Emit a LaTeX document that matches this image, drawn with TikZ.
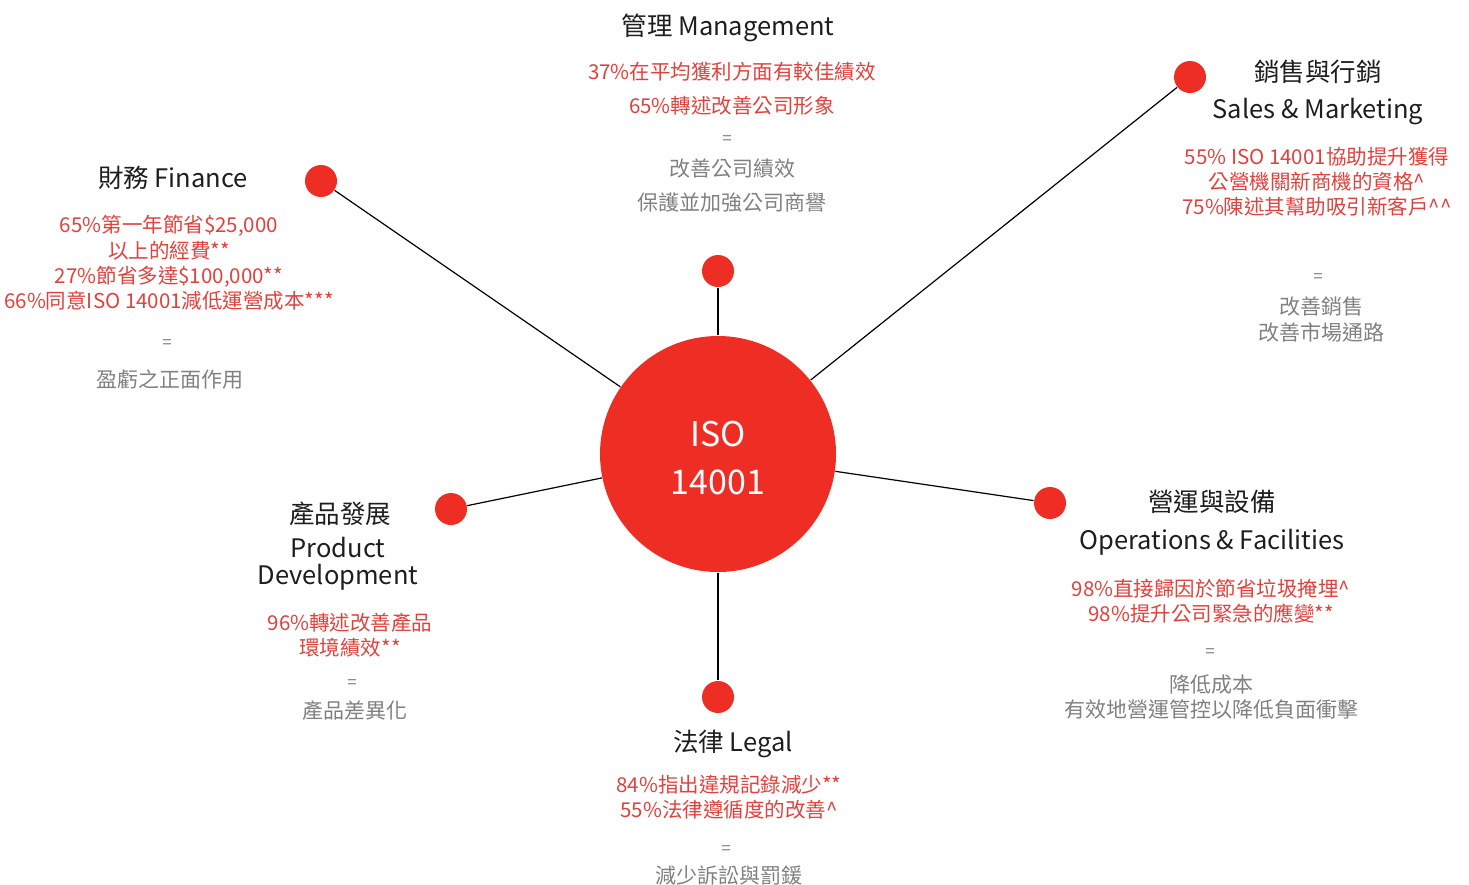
\documentclass[tikz,border=0pt]{standalone}
\usepackage{fontspec}
\setmainfont{Noto Sans CJK TC}
\definecolor{isored}{RGB}{238,46,36}
\definecolor{statred}{RGB}{222,66,62}
\definecolor{resgray}{RGB}{128,128,128}
\definecolor{headblack}{RGB}{30,30,30}

\begin{document}
\begin{tikzpicture}[x=1pt, y=-1pt, line width=1.2pt,
    hub/.style={circle, fill=isored, minimum size=236pt, inner sep=0pt, text=white, align=center, font=\fontsize{34}{48}\selectfont},
    dot/.style={circle, fill=isored, minimum size=32pt, inner sep=0pt},
    title/.style={align=center, text=headblack, inner sep=0pt, font=\fontsize{25.5}{37}\selectfont},
    stat/.style={align=center, text=statred, inner sep=0pt, font=\fontsize{20.5}{25}\selectfont},
    result/.style={align=center, text=resgray, inner sep=0pt, font=\fontsize{21}{26}\selectfont},
    equal/.style={text=resgray, inner sep=0pt, font=\fontsize{17}{20}\selectfont}]
        \useasboundingbox (0,0) rectangle (1469,884);

        % hub and the six dots
        \node[dot]  (mgt) at (718,271)  {};
        \node[dot]  (sal) at (1190,77)  {};
        \node[dot]  (fin) at (321,181)  {};
        \node[dot]  (pro) at (451,509)  {};
        \node[dot]  (ops) at (1050,503) {};
        \node[dot]  (leg) at (718,697)  {};
        \node[hub]  (iso) at (718,454)  {};
        \node[text=white, align=center, font=\fontsize{34}{48}\selectfont] (iso-l) at (718,458) {ISO\\14001};

        \path[draw] (mgt) edge (iso)
                    (sal) edge (iso)
                    (fin) edge (iso)
                    (pro) edge (iso)
                    (ops) edge (iso)
                    (leg) edge (iso);

        % management
        \node[title]  (mgt-t) at (728,28)  {管理 Management};
        \node[stat, font=\fontsize{20.5}{34}\selectfont] (mgt-s) at (732,89)  {37\%在平均獲利方面有較佳績效\\65\%轉述改善公司形象};
        \node[equal]  (mgt-e) at (727,140) {=};
        \node[result, font=\fontsize{21}{34}\selectfont] (mgt-r) at (732,186) {改善公司績效\\保護並加強公司商譽};

        % sales & marketing
        \node[title]  (sal-t) at (1318,92)  {銷售與行銷\\Sales \& Marketing};
        \node[stat]   (sal-s) at (1317,182) {55\% ISO 14001協助提升獲得\\公營機關新商機的資格\textasciicircum\\75\%陳述其幫助吸引新客戶\textasciicircum\textasciicircum};
        \node[equal]  (sal-e) at (1318,278) {=};
        \node[result] (sal-r) at (1321,320) {改善銷售\\改善市場通路};

        % finance
        \node[title]  (fin-t) at (173,178) {財務 Finance};
        \node[stat, font=\fontsize{20.5}{25.3}\selectfont] (fin-s) at (169,263) {65\%第一年節省\$25,000\\以上的經費**\\27\%節省多達\$100,000**\\66\%同意ISO 14001減低運營成本***};
        \node[equal]  (fin-e) at (167,344) {=};
        \node[result] (fin-r) at (170,380) {盈虧之正面作用};

        % product development
        \node[title]  (pro-t) at (340,514)   {產品發展};
        \node[title, font=\fontsize{25.5}{27}\selectfont] (pro-u) at (338,564) {Product\\Development};
        \node[stat]   (pro-s) at (350,635.5) {96\%轉述改善產品\\環境績效**};
        \node[equal]  (pro-e) at (352,684)   {=};
        \node[result] (pro-r) at (355,711)   {產品差異化};

        % operations & facilities
        \node[title, font=\fontsize{25.5}{38}\selectfont] (ops-t) at (1212,523) {營運與設備\\Operations \& Facilities};
        \node[stat]   (ops-s) at (1211,601.5) {98\%直接歸因於節省垃圾掩埋\textasciicircum\\98\%提升公司緊急的應變**};
        \node[equal]  (ops-e) at (1210,653)   {=};
        \node[result, font=\fontsize{21}{25}\selectfont] (ops-r) at (1211,697.5) {降低成本\\有效地營運管控以降低負面衝擊};

        % legal
        \node[title]  (leg-t) at (733,744)   {法律 Legal};
        \node[stat]   (leg-s) at (729,797.5) {84\%指出違規記錄減少**\\55\%法律遵循度的改善\textasciicircum};
        \node[equal]  (leg-e) at (726,850)   {=};
        \node[result] (leg-r) at (729,875)   {減少訴訟與罰鍰};
    \end{tikzpicture}
\end{document}
